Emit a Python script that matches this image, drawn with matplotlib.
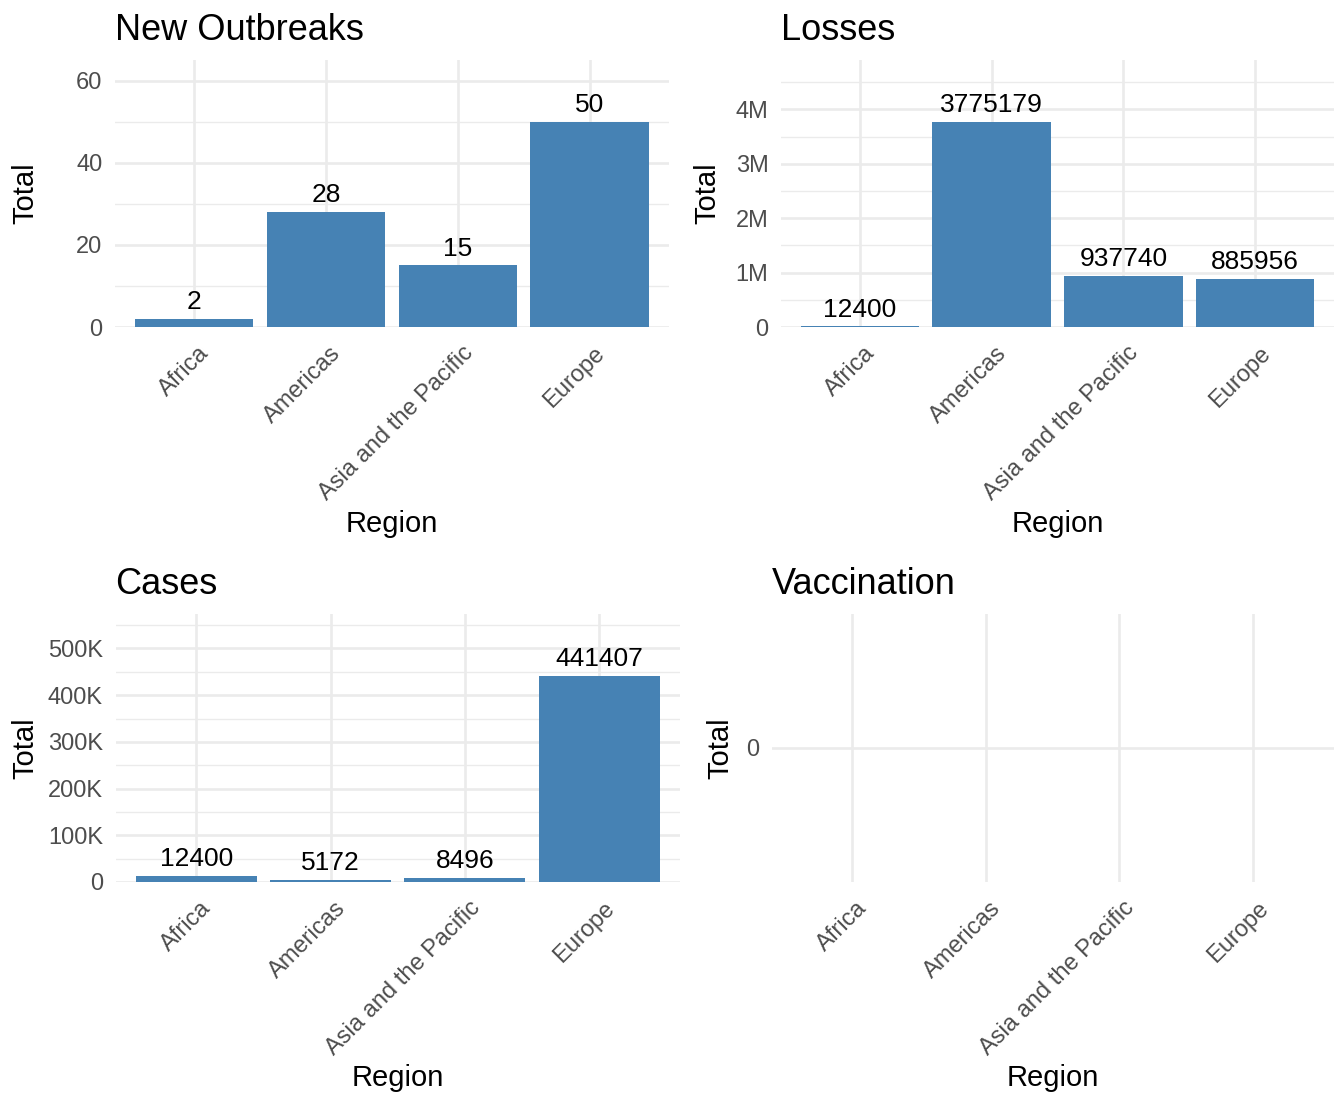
import matplotlib
matplotlib.use("Agg")
import matplotlib.pyplot as plt
import matplotlib.transforms as mtransforms
from matplotlib.ticker import FuncFormatter, MultipleLocator

plt.rcParams['font.family'] = ['Liberation Sans', 'DejaVu Sans']

regions = ["Africa", "Americas", "Asia and the Pacific", "Europe"]
outbreaks = [2, 28, 15, 50]
losses = [12400, 3775179, 937740, 885956]
cases = [12400, 5172, 8496, 441407]
vaccination = [None, None, None, None]

titles = ["New Outbreaks", "Losses", "Cases", "Vaccination"]

W, H = 1344, 1093
DPI = 100
fig = plt.figure(figsize=(W / DPI, H / DPI), dpi=DPI)

# panel boxes in pixels: left, right, top, bottom
boxes = [(115, 669, 60, 327), (781, 1334, 60, 327),
         (115.5, 680, 614, 882), (771.5, 1333.5, 614, 882)]
ylabel_x = [39, 721, 39, 734]

BAR = "#4682B4"
GRID = "#EBEBEB"
TICKC = "#4D4D4D"


def fmt_kmb(v, pos):
    if v == 0:
        return "0"
    if abs(v) >= 1e6:
        return f"{v/1e6:g}M"
    if abs(v) >= 1e3:
        return f"{v/1e3:g}K"
    return f"{v:g}"


def make_ax(i):
    l, r, t, b = boxes[i]
    ax = fig.add_axes([l / W, 1 - b / H, (r - l) / W, (b - t) / H])
    for s in ax.spines.values():
        s.set_visible(False)
    ax.set_axisbelow(True)
    ax.tick_params(axis='both', length=0, which='both')
    ax.tick_params(axis='y', labelsize=17, labelcolor=TICKC, pad=9)
    ax.tick_params(axis='x', labelsize=17, labelcolor=TICKC, pad=11)
    ax.grid(True, which='major', color=GRID, linewidth=1.9)
    ax.grid(True, which='minor', axis='y', color=GRID, linewidth=1.0)
    ax.set_title(titles[i], loc='left', fontsize=26, pad=14.5, color='black')
    ax.set_xlabel("Region", fontsize=21, color='black')
    ax.set_ylabel("Total", fontsize=21, color='black')
    ax.yaxis.set_label_coords((ylabel_x[i] - l) / (r - l), 0.5)
    ax.xaxis.set_label_coords(0.5, (b - 510) / (b - t) if i < 2 else (b - 1064) / (b - t))
    ax.set_xlim(-0.6, len(regions) - 0.4)
    ax.set_xticks(range(len(regions)))
    ax.set_xticklabels(regions, rotation=45, ha='right', va='top',
                       rotation_mode='anchor')
    off = mtransforms.ScaledTranslation(4 / DPI, 0, fig.dpi_scale_trans)
    for lab in ax.get_xticklabels():
        lab.set_transform(lab.get_transform() + off)
    return ax


def bars(ax, vals, major, minor, fmt=None):
    x = range(len(regions))
    ax.bar(x, vals, width=0.9, color=BAR, zorder=2)
    top = max(vals) * 1.3
    ax.set_ylim(0, top)
    ax.yaxis.set_major_locator(MultipleLocator(major))
    ax.yaxis.set_minor_locator(MultipleLocator(minor))
    if fmt:
        ax.yaxis.set_major_formatter(FuncFormatter(fmt))
    for xi, v in zip(x, vals):
        ax.annotate(str(v), (xi, v), xytext=(0, 7), textcoords='offset points',
                    ha='center', va='baseline', fontsize=19, color='black')


ax0 = make_ax(0)
bars(ax0, outbreaks, 20, 10)
ax1 = make_ax(1)
bars(ax1, losses, 1e6, 5e5, fmt_kmb)
ax2 = make_ax(2)
bars(ax2, cases, 1e5, 5e4, fmt_kmb)
ax3 = make_ax(3)
ax3.set_ylim(-1, 1)
ax3.set_yticks([0])
ax3.yaxis.set_minor_locator(matplotlib.ticker.NullLocator())

fig.savefig("out.png", dpi=DPI, facecolor='white')
